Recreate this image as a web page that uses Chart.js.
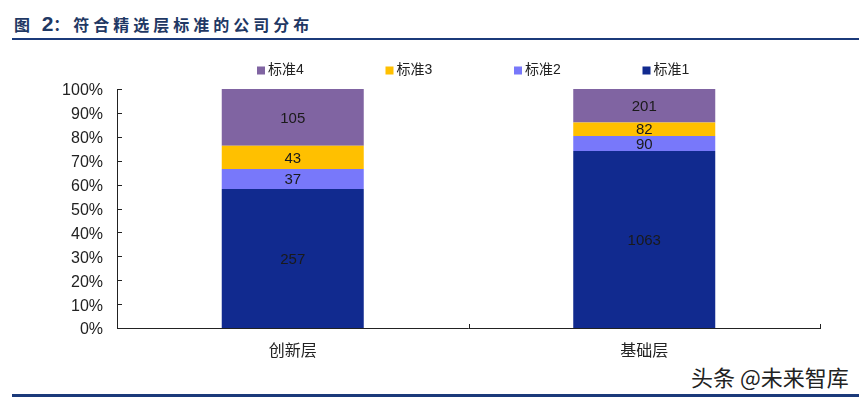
<!DOCTYPE html>
<html><head><meta charset="utf-8">
<script src="https://cdn.jsdelivr.net/npm/chart.js@4"></script>
<style>
html,body{margin:0;padding:0;background:#fff;width:859px;height:398px;overflow:hidden;position:relative;font-family:"Liberation Sans","Noto Sans CJK SC",sans-serif;}
#title{position:absolute;left:14px;top:12px;color:#1F3864;font-weight:bold;font-size:16px;letter-spacing:4px;font-family:"Noto Sans CJK SC",sans-serif;line-height:24px;white-space:nowrap;}
#title .n{font-family:"Liberation Sans",sans-serif;font-size:21px;letter-spacing:0;}
#topline{position:absolute;left:12px;right:0;top:38px;height:2px;background:#1B3A7A;}
#botline{position:absolute;left:12px;right:0;top:394px;height:3px;background:#1B3A7A;}
#wm{position:absolute;left:691px;top:362px;font-size:22px;color:#222;font-family:"Noto Sans CJK SC",sans-serif;line-height:28px;text-shadow:0 0 2px #fff,0 0 2px #fff;white-space:nowrap;}
canvas{position:absolute;left:0;top:0;}
</style></head>
<body>
<div id="title">图 <span class="n">2</span>：符合精选层标准的公司分布</div>
<div id="topline"></div>
<div id="wm">头条 @未来智库</div>
<div id="botline"></div>
<canvas id="c" width="859" height="398"></canvas>
<script>
const categories = ["创新层", "基础层"];
const seriesNames = ["标准1", "标准2", "标准3", "标准4"];
const std1 = [257, 1063];
const std2 = [37, 90];
const std3 = [43, 82];
const std4 = [105, 201];
const colors = ["#112A8F", "#7878FA", "#FFC000", "#8064A2"];
const yTicks = [0,10,20,30,40,50,60,70,80,90,100];

const raw = [std1, std2, std3, std4];
const totals = categories.map((_, i) => raw.reduce((s, a) => s + a[i], 0));

const datasets = raw.map((arr, k) => ({
  label: seriesNames[k],
  data: arr.map((v, i) => v / totals[i] * 100),
  rawValues: arr,
  backgroundColor: colors[k],
  borderWidth: 0,
  barPercentage: 0.404,
  categoryPercentage: 1.0
}));

const FONT = '"Liberation Sans","Noto Sans CJK SC",sans-serif';

const decor = {
  id: 'decor',
  afterDatasetsDraw(chart) {
    const ctx = chart.ctx;
    ctx.save();
    ctx.font = '15px ' + FONT;
    ctx.fillStyle = '#1a1a1a';
    ctx.textAlign = 'center';
    ctx.textBaseline = 'middle';
    chart.data.datasets.forEach((ds, k) => {
      const meta = chart.getDatasetMeta(k);
      meta.data.forEach((bar, i) => {
        const p = bar.getProps(['x', 'y', 'base'], true);
        ctx.fillText(String(ds.rawValues[i]), p.x, (p.y + p.base) / 2 + 1);
      });
    });
    ctx.restore();
  },
  afterDraw(chart) {
    const ctx = chart.ctx;
    const xs = chart.scales.x, ys = chart.scales.y;
    ctx.save();
    ctx.strokeStyle = '#222';
    ctx.lineWidth = 1;
    ctx.beginPath();
    ctx.moveTo(xs.left + 0.5, ys.top);
    ctx.lineTo(xs.left + 0.5, ys.bottom + 0.5);
    ctx.lineTo(xs.right, ys.bottom + 0.5);
    ctx.stroke();
    ctx.beginPath();
    yTicks.forEach(v => {
      const y = Math.round(ys.getPixelForValue(v)) + 0.5;
      ctx.moveTo(xs.left, y);
      ctx.lineTo(xs.left + 5, y);
    });
    const n = categories.length;
    for (let i = 0; i <= n; i++) {
      const x = Math.round(xs.left + i * (xs.right - xs.left) / n) + 0.5;
      ctx.moveTo(x, ys.bottom + 1);
      ctx.lineTo(x, ys.bottom - 4);
    }
    ctx.stroke();
    ctx.font = '14px ' + FONT;
    ctx.textBaseline = 'middle';
    ctx.textAlign = 'left';
    const order = [3, 2, 1, 0];
    order.forEach((k, j) => {
      const x0 = xs.left + 140 + j * 128.5;
      const yc = 70.5;
      ctx.fillStyle = colors[k];
      ctx.fillRect(x0, yc - 4, 8, 8);
      ctx.fillStyle = '#222';
      ctx.fillText(seriesNames[k], x0 + 11, yc);
    });
    ctx.restore();
  }
};

new Chart(document.getElementById('c'), {
  type: 'bar',
  data: { labels: categories, datasets },
  options: {
    responsive: false,
    animation: false,
    layout: { padding: { left: 0, right: 39, top: 89, bottom: 0 } },
    plugins: { legend: { display: false }, tooltip: { enabled: false } },
    scales: {
      x: {
        stacked: true,
        offset: true,
        border: { display: false },
        grid: { display: false, drawTicks: false },
        ticks: { padding: 14, color: '#222', font: { size: 16, family: FONT } },
        afterFit(s) { s.height = 70; }
      },
      y: {
        stacked: true,
        min: 0, max: 100,
        border: { display: false },
        grid: { display: false, drawTicks: false },
        afterBuildTicks(s) { s.ticks = yTicks.map(v => ({ value: v })); },
        ticks: {
          padding: 14, color: '#222', labelOffset: 2,
          font: { size: 16, family: FONT },
          callback: v => v + '%'
        },
        afterFit(s) { s.width = 117; }
      }
    }
  },
  plugins: [decor]
});
</script>
</body></html>
